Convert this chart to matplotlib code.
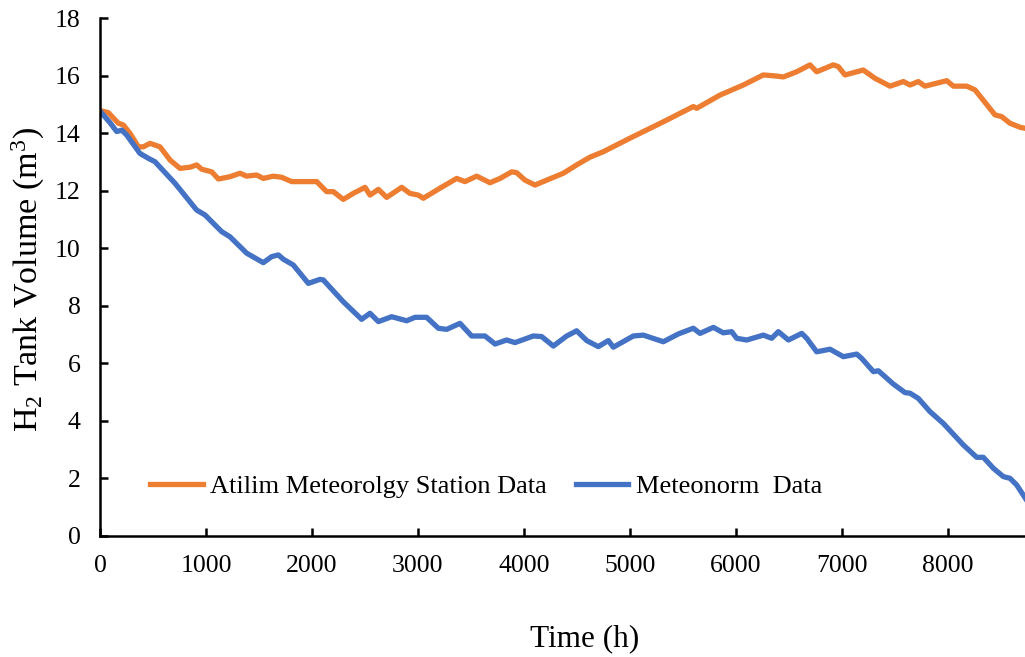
import matplotlib
matplotlib.use("Agg")
import matplotlib.pyplot as plt

# Hourly H2 tank volume over one year, two weather data sources
hours_atilim = [0, 78, 173, 220, 283, 362, 409, 472, 566, 661, 755, 849, 912, 960,
                1054, 1117, 1227, 1321, 1384, 1478, 1541, 1636, 1714, 1809, 1950,
                2045, 2139, 2202, 2296, 2390, 2501, 2548, 2627, 2705, 2847, 2925,
                3004, 3051, 3208, 3366, 3444, 3555, 3680, 3775, 3885, 3932, 4011,
                4105, 4215, 4372, 4498, 4624, 4750, 5001, 5316, 5599, 5631, 5851,
                6071, 6260, 6386, 6449, 6574, 6700, 6763, 6920, 6967, 7030, 7203,
                7314, 7455, 7581, 7644, 7722, 7785, 7990, 8053, 8179, 8257, 8446,
                8509, 8587, 8682, 8760]
vol_atilim = [14.79, 14.72, 14.35, 14.29, 14.00, 13.53, 13.53, 13.65, 13.53, 13.07,
              12.78, 12.82, 12.90, 12.75, 12.66, 12.41, 12.49, 12.61, 12.51, 12.55,
              12.43, 12.51, 12.47, 12.32, 12.32, 12.32, 11.97, 11.97, 11.70, 11.91,
              12.12, 11.85, 12.05, 11.77, 12.12, 11.91, 11.85, 11.74, 12.09, 12.43,
              12.32, 12.51, 12.28, 12.43, 12.66, 12.63, 12.37, 12.20, 12.37, 12.61,
              12.90, 13.17, 13.36, 13.83, 14.40, 14.93, 14.87, 15.33, 15.68, 16.03,
              15.99, 15.96, 16.14, 16.38, 16.14, 16.38, 16.32, 16.03, 16.20, 15.91,
              15.64, 15.80, 15.68, 15.80, 15.64, 15.83, 15.64, 15.64, 15.51, 14.64,
              14.58, 14.35, 14.21, 14.15]

hours_meteo = [0, 94, 158, 205, 252, 377, 456, 519, 708, 912, 991, 1148, 1227, 1384,
               1541, 1620, 1683, 1730, 1824, 1966, 2076, 2107, 2296, 2469, 2548, 2627,
               2752, 2894, 2973, 3082, 3193, 3271, 3397, 3507, 3633, 3728, 3837, 3916,
               4089, 4168, 4278, 4404, 4498, 4593, 4702, 4797, 4844, 5033, 5127, 5316,
               5457, 5599, 5662, 5788, 5882, 5961, 6008, 6103, 6260, 6339, 6401, 6496,
               6622, 6669, 6763, 6889, 7015, 7141, 7188, 7298, 7345, 7486, 7597, 7644,
               7722, 7832, 7958, 8147, 8273, 8336, 8430, 8524, 8587, 8650, 8760]
vol_meteo = [14.77, 14.37, 14.06, 14.11, 13.94, 13.30, 13.13, 13.01, 12.26, 11.33,
             11.16, 10.58, 10.40, 9.83, 9.50, 9.71, 9.77, 9.62, 9.42, 8.78, 8.92, 8.90,
             8.14, 7.53, 7.74, 7.45, 7.62, 7.48, 7.60, 7.60, 7.22, 7.18, 7.39, 6.95,
             6.95, 6.67, 6.81, 6.72, 6.95, 6.93, 6.60, 6.95, 7.13, 6.79, 6.58, 6.79,
             6.56, 6.95, 6.98, 6.75, 7.02, 7.22, 7.04, 7.25, 7.06, 7.10, 6.87, 6.81,
             6.98, 6.87, 7.10, 6.81, 7.04, 6.87, 6.40, 6.49, 6.23, 6.32, 6.17, 5.71,
             5.74, 5.28, 4.98, 4.96, 4.78, 4.32, 3.91, 3.16, 2.73, 2.73, 2.35, 2.06,
             2.00, 1.77, 1.15]

series_labels = ["Atilim Meteorolgy Station Data", "Meteonorm  Data"]
x_ticks = [0, 1000, 2000, 3000, 4000, 5000, 6000, 7000, 8000]
y_ticks = [0, 2, 4, 6, 8, 10, 12, 14, 16, 18]

plt.rcParams["font.family"] = ["Liberation Serif", "DejaVu Serif"]
plt.rcParams["mathtext.fontset"] = "custom"
plt.rcParams["mathtext.rm"] = "Liberation Serif"
plt.rcParams["mathtext.it"] = "Liberation Serif:italic"

W, H = 1025, 657
fig = plt.figure(figsize=(W / 100, H / 100), dpi=100)
ax = fig.add_axes([100 / W, (H - 535.8) / H, 928.3 / W, 517.5 / H])

ax.plot(hours_atilim, vol_atilim, color="#ED7D31", lw=3.8,
        solid_joinstyle="round", label=series_labels[0])
ax.plot(hours_meteo, vol_meteo, color="#4472C4", lw=3.8,
        solid_joinstyle="round", label=series_labels[1])

ax.set_xticks(x_ticks)
ax.set_yticks(y_ticks)
ax.set_xlim(0, 8760)
ax.set_ylim(0, 18)

for side in ("top", "right"):
    ax.spines[side].set_visible(False)
for side in ("left", "bottom"):
    ax.spines[side].set_linewidth(1.8)

ax.tick_params(axis="both", direction="in", length=5.5, width=1.8,
               labelsize=18.5, pad=14)

ax.set_xlabel("Time (h)", fontsize=22.5)
ax.set_ylabel("H$_2$ Tank Volume (m$^3$)", fontsize=24.5)
ax.xaxis.set_label_coords(585 / W, 1 - 639 / H, transform=fig.transFigure)
ax.yaxis.set_label_coords(28 / W, 1 - 279 / H, transform=fig.transFigure)
ax.xaxis.label.set_va("center")
ax.yaxis.label.set_va("center")

fig.legend(loc="center left", bbox_to_anchor=(150 / W, 1 - 486 / H),
           ncol=2, frameon=False, fontsize=19, borderpad=0, borderaxespad=0,
           handlelength=2.0, handletextpad=0.27, columnspacing=1.1)

fig.savefig("out.png", dpi=100)
